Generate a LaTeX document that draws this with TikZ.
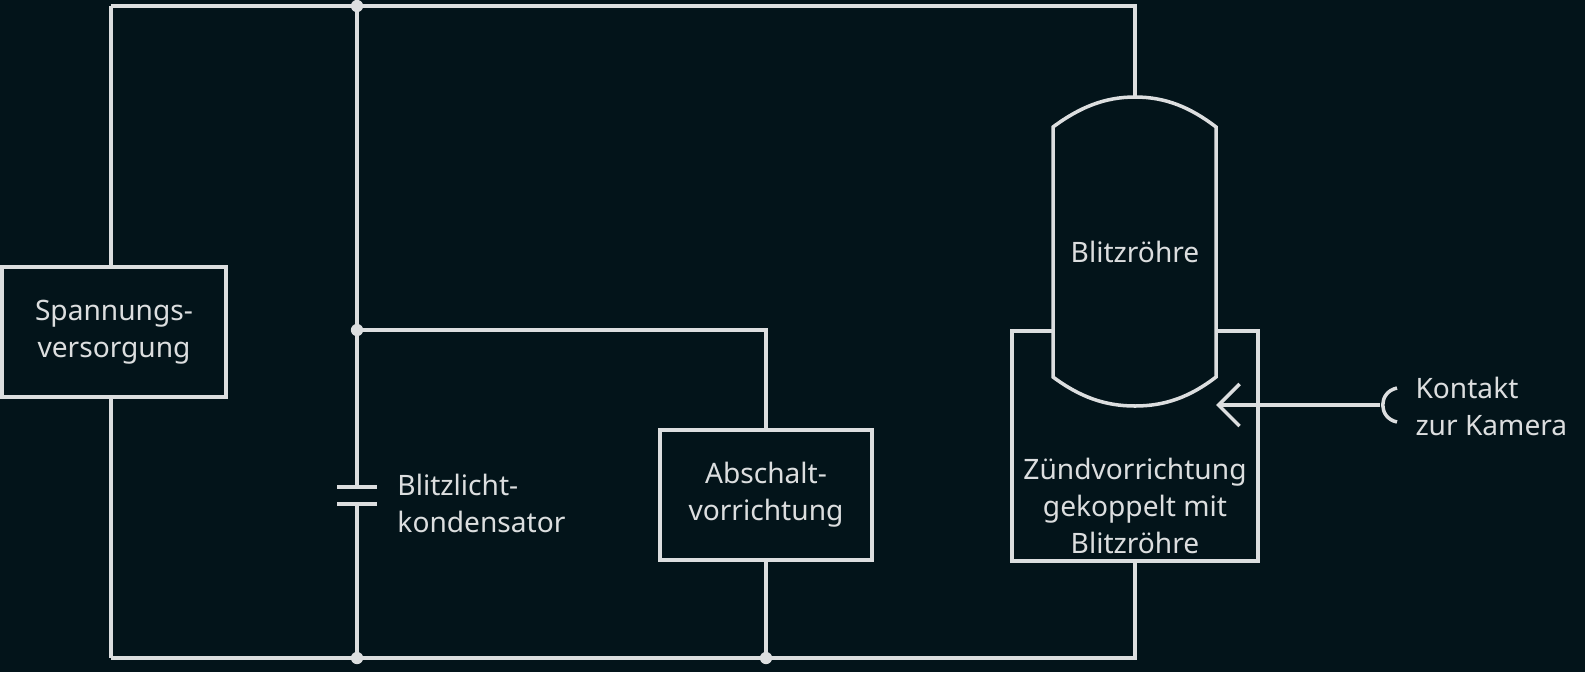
\documentclass[tikz,border=0pt]{standalone}
\usepackage{fontspec}
\setmainfont{Noto Sans}
\usetikzlibrary{arrows.meta}
\definecolor{bgdark}{HTML}{03141A}
\definecolor{wire}{HTML}{DCDEDF}
\tikzset{
	block/.style={draw=wire, fill=bgdark, line width=1pt, align=center, text=wire, font=\fontsize{8}{10.5}\selectfont, inner sep=0pt},
	lbl/.style={text=wire, align=left, font=\fontsize{8}{10.5}\selectfont},
	dot/.style={circle, fill=wire, inner sep=0pt, minimum size=3.5pt},
}
\begin{document}
\begin{tikzpicture}[x=0.01cm, y=-0.01cm, line width=1pt, draw=wire]
		
		\fill[bgdark] (0,0) rectangle (1585,672);
		\useasboundingbox (0,0) rectangle (1585,672);
		
		% wires
		\coordinate (tl) at (111,6);
		\coordinate (tc) at (357,6);
		\coordinate (tr) at (1135,6);
		\coordinate (bl) at (111,658);
		\coordinate (bc) at (357,658);
		\coordinate (bm) at (766,658);
		\coordinate (br) at (1135,658);
		\coordinate (mc) at (357,330);
		\coordinate (mm) at (766,330);
		\draw[wire] (tl) -- (tr) -- (1135,97);
		\draw[wire] (bl) -- (br) -- (1135,561);
		\draw[wire] (tl) -- (111,267);
		\draw[wire] (111,397) -- (bl);
		\draw[wire] (tc) -- (357,487);
		\draw[wire] (357,504) -- (bc);
		\draw[wire] (mc) -- (mm) -- (766,430);
		\draw[wire] (766,560) -- (bm);
		
		% capacitor
		\draw[wire] (337,487) -- (377,487);
		\draw[wire] (337,504) -- (377,504);
		\node[lbl, anchor=west] (cap) at (384,503) {Blitzlicht-\\kondensator};
		
		% blocks
		\node[block, minimum width=2.24cm, minimum height=1.3cm] (psu) at (114,332) {Spannungs-\\versorgung};
		\node[block, minimum width=2.12cm, minimum height=1.3cm] (off) at (766,495) {Abschalt-\\vorrichtung};
		\node[block, minimum width=2.46cm, minimum height=2.3cm] (ign) at (1135,446) {};
		\node[lbl, align=center] at (1135,506) {Zündvorrichtung\\gekoppelt mit\\Blitzröhre};
		
		% flash tube
		\draw[wire, fill=bgdark] (1053,127) .. controls (1080,107) and (1105,97) .. (1135,97) .. controls (1165,97) and (1190,107) .. (1216,127)
			-- (1216,377) .. controls (1190,397) and (1165,406) .. (1135,406) .. controls (1105,406) and (1080,397) .. (1053,377) -- cycle;
		\node[lbl, align=center] (tube) at (1135,252) {Blitzröhre};
		
		% contact
		\coordinate (ct) at (1380,405);
		\draw[wire, -{Straight Barb[length=6pt, width=12pt]}] (ct) -- (1216,405);
		\draw[wire] (1397,388) .. controls (1378,392) and (1378,418) .. (1397,422);
		\node[lbl, anchor=west] (cam) at (1402,406) {Kontakt\\zur Kamera};
		
		\foreach \p in {tc,mc,bc,bm} \node[dot] at (\p) {};
		
\end{tikzpicture}
\end{document}
